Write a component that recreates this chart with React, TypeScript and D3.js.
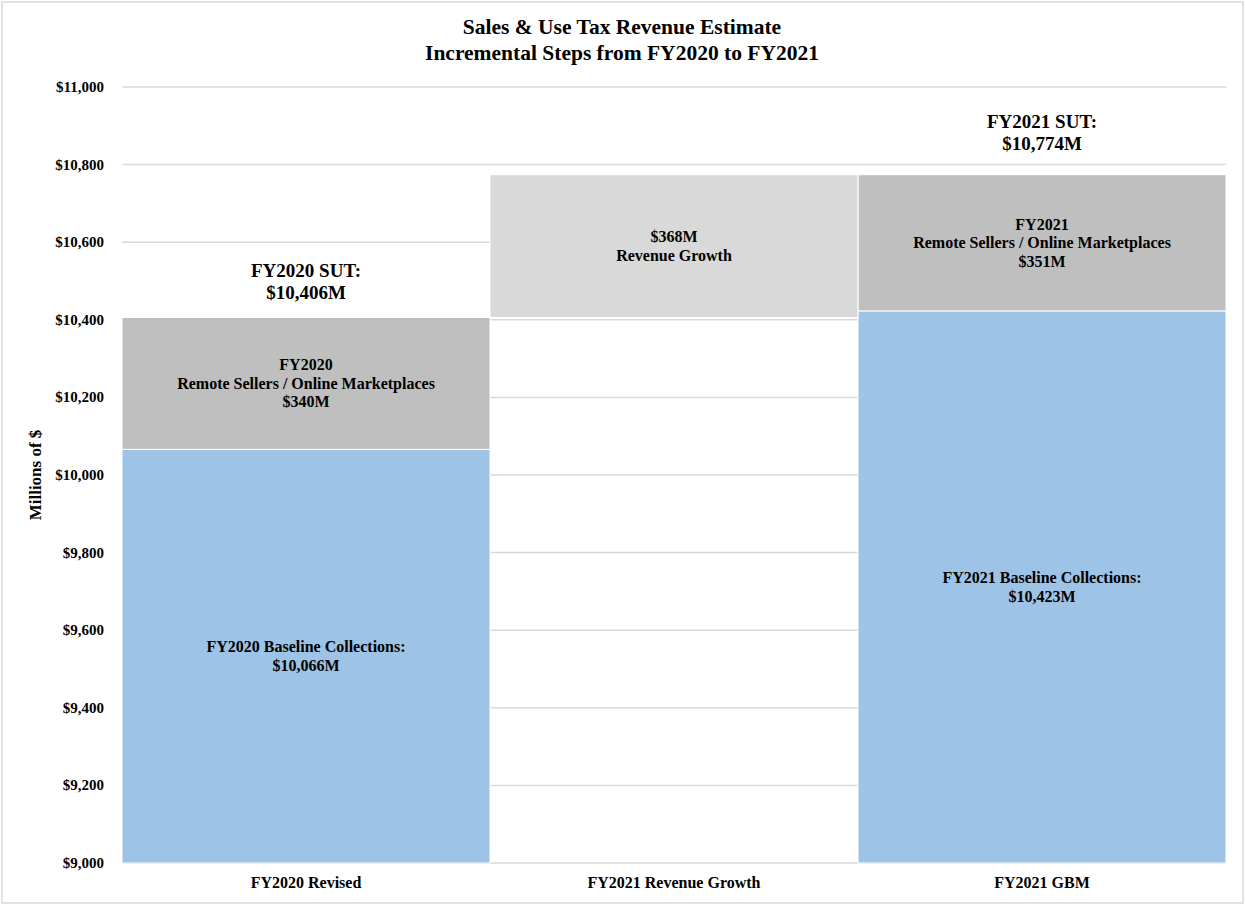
import React from "react";
import * as d3 from "d3";

const categories = ["FY2020 Revised", "FY2021 Revenue Growth", "FY2021 GBM"];
const baselineValues = [10066, 0, 10423];
const invisibleBase = [0, 10406, 0];
const remoteValues = [340, 0, 351];
const growthValues = [0, 368, 0];
const yTicks = [9000, 9200, 9400, 9600, 9800, 10000, 10200, 10400, 10600, 10800, 11000];

const segmentLabels = [
  { cat: 0, series: "baseline", lines: ["FY2020 Baseline Collections:", "$10,066M"] },
  { cat: 0, series: "remote", lines: ["FY2020", "Remote Sellers / Online Marketplaces", "$340M"] },
  { cat: 1, series: "growth", lines: ["$368M", "Revenue Growth"] },
  { cat: 2, series: "baseline", lines: ["FY2021 Baseline Collections:", "$10,423M"] },
  { cat: 2, series: "remote", lines: ["FY2021", "Remote Sellers / Online Marketplaces", "$351M"] },
];
const totalLabels = [
  { cat: 0, value: 10406, lines: ["FY2020 SUT:", "$10,406M"] },
  { cat: 2, value: 10774, lines: ["FY2021 SUT:", "$10,774M"] },
];
const totalLabelGap = [40, 47];

const W = 1245;
const H = 905;
const M = { left: 122, right: 19, top: 87, bottom: 42 };
const FONT = "'Liberation Serif', 'DejaVu Serif', serif";

export default function App() {
  const x = d3
    .scaleBand()
    .domain(categories)
    .range([M.left, W - M.right])
    .paddingInner(0)
    .paddingOuter(0);
  const y = d3.scaleLinear().domain([9000, 11000]).range([H - M.bottom, M.top]);

  const rows = categories.map((c, i) => ({
    cat: c,
    baseline: baselineValues[i],
    invisible: invisibleBase[i],
    remote: remoteValues[i],
    growth: growthValues[i],
  }));
  const keys = ["baseline", "invisible", "remote", "growth"];
  const stacked = d3.stack<any>().keys(keys)(rows);
  const fills: Record<string, string> = {
    baseline: "#9DC3E6",
    invisible: "none",
    remote: "#BFBFBF",
    growth: "#D9D9D9",
  };
  const yMin = y.domain()[0];
  const fmt = d3.format(",");

  const seg = (series: string, cat: number) => {
    const s = stacked.find((d) => d.key === series)!;
    const d = s[cat];
    return [Math.max(d[0], yMin), d[1]];
  };

  return (
    <svg width={W} height={H} style={{ position: "absolute", left: 0, top: 0, fontFamily: FONT }}>
      <rect x={0} y={0} width={W} height={H} fill="#fff" />
      <rect x={2} y={2} width={W - 4} height={H - 4} fill="none" stroke="#D9D9D9" strokeWidth={1.5} />
      <text x={622} y={34} textAnchor="middle" fontSize={21.5} fontWeight="bold" fill="#000">
        Sales &amp; Use Tax Revenue Estimate
      </text>
      <text x={622} y={60} textAnchor="middle" fontSize={21.5} fontWeight="bold" fill="#000">
        Incremental Steps from FY2020 to FY2021
      </text>
      {yTicks.map((t) => (
        <g key={t}>
          <line x1={M.left} x2={W - M.right} y1={y(t)} y2={y(t)} stroke="#D9D9D9" strokeWidth={1.5} />
          <text x={104} y={y(t) + 5} textAnchor="end" fontSize={15} fontWeight="bold" fill="#000">
            {"$" + fmt(t)}
          </text>
        </g>
      ))}
      <text
        transform={`translate(41,${(M.top + H - M.bottom) / 2}) rotate(-90)`}
        textAnchor="middle"
        fontSize={17}
        fontWeight="bold"
        fill="#000"
      >
        Millions of $
      </text>
      {stacked.map((s) =>
        s.map((d, i) => {
          if (d[1] - d[0] <= 0 || fills[s.key] === "none") return null;
          const y0 = Math.max(d[0], yMin);
          return (
            <rect
              key={s.key + i}
              x={x(categories[i])!}
              width={x.bandwidth()}
              y={y(d[1])}
              height={y(y0) - y(d[1])}
              fill={fills[s.key]}
              stroke="#fff"
              strokeWidth={1}
            />
          );
        })
      )}
      {segmentLabels.map((l, k) => {
        const [a, b] = seg(l.series, l.cat);
        const cy = (y(a) + y(b)) / 2;
        const cx = x(categories[l.cat])! + x.bandwidth() / 2;
        const lh = 18.5;
        const start = cy - ((l.lines.length - 1) * lh) / 2;
        return (
          <text key={k} textAnchor="middle" fontSize={16} fontWeight="bold" fill="#000">
            {l.lines.map((ln, j) => (
              <tspan key={j} x={cx} y={start + j * lh + 5.5}>
                {ln}
              </tspan>
            ))}
          </text>
        );
      })}
      {totalLabels.map((l, k) => {
        const cx = x(categories[l.cat])! + x.bandwidth() / 2;
        const top = y(l.value);
        return (
          <text key={k} textAnchor="middle" fontSize={19} fontWeight="bold" fill="#000">
            {l.lines.map((ln, j) => (
              <tspan key={j} x={cx} y={top - totalLabelGap[k] + j * 22}>
                {ln}
              </tspan>
            ))}
          </text>
        );
      })}
      {categories.map((c) => (
        <text
          key={c}
          x={x(c)! + x.bandwidth() / 2}
          y={888}
          textAnchor="middle"
          fontSize={16}
          fontWeight="bold"
          fill="#000"
        >
          {c}
        </text>
      ))}
    </svg>
  );
}
